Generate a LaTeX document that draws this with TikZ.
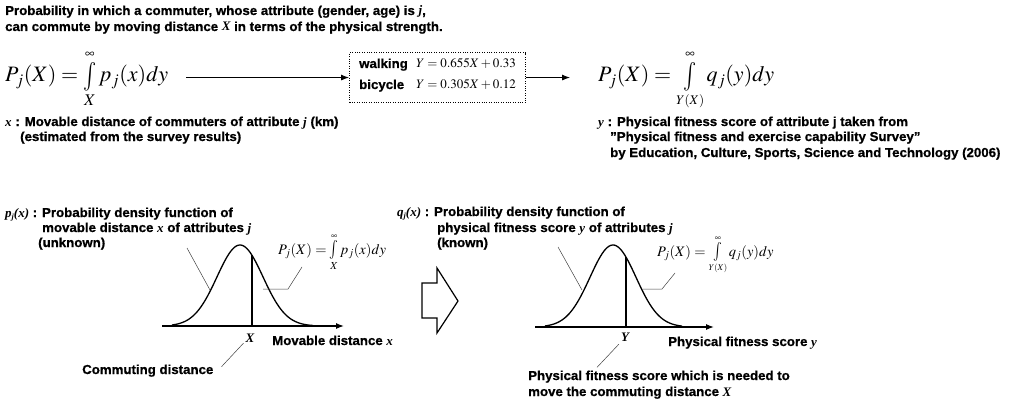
\documentclass[tikz,border=0pt]{standalone}
\usepackage{mathptmx}
\usepackage[no-math]{fontspec}
\setmainfont{Liberation Sans}[FakeStretch=1.02, BoldFeatures={FakeBold=0.8}]
\newfontfamily\tmsfont{Liberation Serif}
\newcommand{\mi}[1]{{\tmsfont\bfseries\itshape #1}}
\usepackage{graphicx}
\usetikzlibrary{arrows.meta,calc}
\newcommand{\myint}{\mathop{\vcenter{\hbox{\scalebox{1}[1.3]{$\textstyle\int$}}}}\limits}
\tikzset{
  txt/.style={font=\fontsize{13}{16}\selectfont\bfseries, inner sep=0pt, anchor=base west},
  fml/.style={font=\fontsize{22}{26}\selectfont, inner sep=0pt, anchor=base west},
  sfml/.style={font=\fontsize{14.5}{18}\selectfont, inner sep=0pt, anchor=base west},
  mth/.style={font=\fontsize{13}{16}\selectfont, inner sep=0pt, anchor=base west},
  lbl/.style={font=\fontsize{13}{16}\selectfont, inner sep=0pt, anchor=base},
  arr/.style={line width=0.8pt, -{Latex[length=8pt,width=6pt]}},
  curveline/.style={line width=1.3pt, line join=round},
  axisline/.style={line width=1.3pt, -{Latex[length=8pt,width=6pt]}},
  leader/.style={line width=0.5pt, black!75},
  dotbox/.style={draw, line width=1.1pt, dash pattern=on 1pt off 1.4pt, minimum width=176pt, minimum height=50pt, anchor=north west, inner sep=0pt},
  blockarrow/.style={line width=1.2pt, line join=miter, fill=white}
}
\begin{document}
\begin{tikzpicture}[x=1pt,y=-1pt]
\useasboundingbox (0,0) rectangle (1024,401);
% title
\node[txt] (t1) at (5,15) {Probability in which a commuter, whose attribute (gender, age) is \mi{j},};
\node[txt] (t2) at (5,31) {can commute by moving distance \mi{X} in terms of the physical strength.};
% top formulas
\node[fml] (pjX) at (5,82) {$P_j(X)=\myint_X^{\scriptscriptstyle\infty} p_j(x)dy$};
\node[dotbox] (box) at (349,52) {};
\node[txt] (walk) at (359,68) {walking};
\node[mth] (weq) at (416,68) {$Y=0.655X+0.33$};
\node[txt] (bike) at (359,89) {bicycle};
\node[mth] (beq) at (416,89) {$Y=0.305X+0.12$};
\node[fml] (pjY) at (598,82) {$P_j(X)=\myint_{\scriptscriptstyle Y(X)}^{\scriptscriptstyle\infty} q_j(y)dy$};
\draw[arr] ($(box.west -| pjX.east)+(18,0)$) -- (box.west);
\draw[arr] (box.east) -- ($(box.east -| pjY.west)+(-28,0)$);
% descriptions
\node[txt] (xd1) at (5,126) {\mi{x} : Movable distance of commuters of attribute \mi{j} (km)};
\node[txt] (xd2) at (20,141) {(estimated from the survey results)};
\node[txt] (yd1) at (598,126) {\mi{y} : Physical fitness score of attribute j taken from};
\node[txt] (yd2) at (610,141) {"Physical fitness and exercise capability Survey"};
\node[txt] (yd3) at (610,157) {by Education, Culture, Sports, Science and Technology (2006)};
% bottom left
\node[txt] (pl1) at (5,217) {\mi{p}\raisebox{-2pt}{\mi{\footnotesize j}}\mi{(x)} : Probability density function of};
\node[txt] (pl2) at (42,232) {movable distance \mi{x} of attributes \mi{j}};
\node[txt] (pl3) at (38,247) {(unknown)};
\draw[curveline] plot[domain=172:313, samples=80] (\x, {326-81*exp(-((\x-240)^2)/1058)});
\draw[curveline] (252,326) -- (252,{326-81*exp(-144/1058)});
\draw[axisline] (162,326) -- (344,326);
\node[sfml] (pf1) at (278,254) {$P_j(X)=\myint_X^{\scriptscriptstyle\infty} p_j(x)dy$};
\node[lbl] (Xl) at (250,342) {\mi{X}};
\node[txt] (mvd) at (272,345) {Movable distance \mi{x}};
\node[txt] (cd) at (82,374) {Commuting distance};
\coordinate (c1a) at (210,290);
\coordinate (c1b) at (263,289);
\draw[leader] (c1a) -- (187,248);
\draw[leader] (c1b) -- (288,289) -- (302,267);
\draw[leader] ($(Xl.south west)+(-2,1)$) -- ($(cd.east)+(8,-4)$);
% block arrow
\draw[blockarrow] (422,283) -- (437,283) -- (437,268) -- (458,301) -- (437,333) -- (437,318) -- (422,318) -- cycle;
% bottom right
\node[txt] (ql1) at (397,216) {\mi{q}\raisebox{-2pt}{\mi{\footnotesize j}}\mi{(x)} : Probability density function of};
\node[txt] (ql2) at (437,232) {physical fitness score \mi{y} of attributes \mi{j}};
\node[txt] (ql3) at (437,247) {(known)};
\draw[curveline] plot[domain=545:682, samples=80] (\x, {327-82*exp(-((\x-613)^2)/1058)});
\draw[curveline] (626,327) -- (626,{327-82*exp(-169/1058)});
\draw[axisline] (535,327) -- (714,327);
\node[sfml] (pf2) at (657,256) {$P_j(X)=\myint_{\scriptscriptstyle Y(X)}^{\scriptscriptstyle\infty} q_j(y)dy$};
\node[lbl] (Yl) at (625,341) {\mi{Y}};
\node[txt] (pfs) at (668,346) {Physical fitness score \mi{y}};
\node[txt] (nd1) at (528,380) {Physical fitness score which is needed to};
\node[txt] (nd2) at (528,396) {move the commuting distance \mi{X}};
\coordinate (c2a) at (582,290);
\coordinate (c2b) at (643,289);
\draw[leader] (c2a) -- (558,247);
\draw[leader] (c2b) -- (662,289) -- (675,273);
\draw[leader] ($(Yl.south west)+(-2,3)$) -- ($(nd1.north west)+(69,-3)$);
\end{tikzpicture}
\end{document}
